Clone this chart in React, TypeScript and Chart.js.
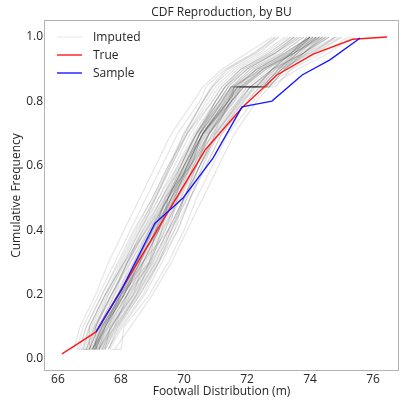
import React, { useEffect, useRef } from 'react';
import { Chart, registerables } from 'chart.js';

Chart.register(...registerables);

const TITLE = 'CDF Reproduction, by BU';
const X_LABEL = 'Footwall Distribution (m)';
const Y_LABEL = 'Cumulative Frequency';
const LEGEND_LABELS = ['Imputed', 'True', 'Sample'];

const X_TICKS = [66, 68, 70, 72, 74, 76];
const Y_TICKS = [0, 0.2, 0.4, 0.6, 0.8, 1.0];

const TRUE_X = [66.13, 67.21, 70.67, 71.84, 72.95, 74.1, 75.35, 76.44];
const TRUE_Y = [0.016, 0.084, 0.649, 0.78, 0.882, 0.947, 0.993, 1.0];

const SAMPLE_X = [67.21, 68.03, 69.08, 69.97, 70.92, 71.84, 72.79, 73.75, 74.63, 75.59];
const SAMPLE_Y = [0.084, 0.217, 0.422, 0.5, 0.624, 0.783, 0.801, 0.882, 0.929, 0.997];

const IMPUTED_Y = [0.03, 0.03, 0.1, 0.2, 0.3, 0.4, 0.5, 0.6, 0.7, 0.8, 0.845, 0.845, 0.9, 0.95, 1.0];
const IMPUTED_RUNS = [
  [66.7, 66.7, 66.9, 67.4, 67.9, 68.4, 69.0, 69.5, 70.0, 70.6, 70.9, 70.9, 71.5, 72.4, 73.0],
  [67.1, 67.1, 67.4, 68.0, 68.7, 69.2, 69.7, 70.2, 70.7, 71.5, 71.8, 72.6, 73.1, 73.8, 74.4],
  [67.6, 67.6, 67.9, 68.6, 69.2, 69.8, 70.2, 70.7, 71.2, 72.0, 72.4, 72.4, 73.1, 74.0, 74.8],
  [67.0, 67.0, 67.3, 67.8, 68.2, 68.8, 69.3, 69.9, 70.4, 71.0, 71.3, 71.3, 71.9, 72.9, 73.6],
  [67.3, 67.3, 67.7, 68.3, 68.9, 69.4, 69.8, 70.2, 70.6, 71.2, 71.5, 72.4, 72.9, 73.5, 74.0],
  [66.8, 67.2, 67.2, 67.6, 68.1, 68.6, 69.2, 69.8, 70.4, 71.1, 71.5, 71.5, 72.5, 73.5, 74.4],
  [67.2, 67.2, 67.5, 68.1, 68.6, 69.1, 69.7, 70.1, 70.6, 71.4, 71.6, 72.7, 73.2, 73.8, 74.3],
  [67.1, 67.1, 67.35, 67.9, 68.4, 68.9, 69.5, 70.0, 70.5, 71.2, 71.5, 71.5, 72.1, 73.0, 73.7],
  [67.4, 67.4, 67.8, 68.5, 69.1, 69.6, 70.1, 70.5, 71.0, 71.8, 72.2, 72.2, 72.9, 73.8, 74.6],
  [66.6, 66.6, 66.8, 67.3, 67.8, 68.3, 68.8, 69.3, 69.8, 70.5, 70.7, 70.7, 71.3, 72.2, 72.9],
  [67.7, 68.0, 68.1, 68.9, 69.5, 70.0, 70.4, 70.9, 71.4, 72.2, 72.6, 72.6, 73.4, 74.4, 75.2],
  [67.3, 67.3, 67.6, 68.2, 68.7, 69.2, 69.6, 70.0, 70.5, 71.1, 71.4, 72.3, 72.8, 73.4, 73.9],
  [67.0, 67.0, 67.3, 67.9, 68.5, 69.0, 69.6, 70.2, 70.8, 71.6, 72.0, 72.0, 72.7, 73.7, 74.5],
  [67.2, 67.2, 67.5, 68.0, 68.6, 69.0, 69.6, 70.1, 70.6, 71.3, 71.7, 72.6, 73.1, 73.7, 74.2],
  [66.8, 66.8, 67.0, 67.5, 68.0, 68.5, 69.1, 69.6, 70.1, 70.8, 71.1, 71.1, 71.7, 72.6, 73.3],
  [67.4, 67.4, 67.7, 68.4, 69.0, 69.5, 70.0, 70.5, 71.1, 71.9, 72.3, 72.3, 73.1, 74.1, 75.0],
  [67.1, 67.1, 67.4, 68.0, 68.5, 69.0, 69.5, 70.1, 70.6, 71.3, 71.6, 72.5, 73.0, 73.5, 74.0],
  [67.3, 67.3, 67.5, 68.1, 68.7, 69.2, 69.7, 70.1, 70.5, 71.0, 71.3, 71.3, 71.8, 72.7, 73.4],
  [66.9, 66.9, 67.2, 67.7, 68.2, 68.8, 69.4, 70.0, 70.6, 71.4, 71.8, 71.8, 72.4, 73.4, 74.2],
  [67.5, 67.5, 67.9, 68.5, 69.1, 69.6, 70.1, 70.6, 71.1, 71.9, 72.2, 72.9, 73.4, 74.1, 74.8],
  [67.15, 67.15, 67.45, 68.05, 68.6, 69.1, 69.6, 70.1, 70.6, 71.35, 71.65, 71.65, 72.3, 73.25, 74.0],
  [66.6, 67.0, 67.0, 67.5, 68.1, 68.6, 69.1, 69.6, 70.1, 70.7, 71.0, 71.0, 71.6, 72.5, 73.2],
  [67.3, 67.3, 67.7, 68.3, 68.9, 69.4, 69.9, 70.4, 70.9, 71.7, 72.0, 72.7, 73.2, 73.9, 74.6],
  [67.0, 67.0, 67.3, 67.8, 68.4, 68.9, 69.4, 69.9, 70.4, 71.1, 71.4, 71.4, 72.0, 72.9, 73.6],
  [67.8, 67.8, 68.3, 69.0, 69.6, 70.1, 70.6, 71.1, 71.6, 72.3, 72.7, 72.7, 73.6, 74.6, 75.3],
  [66.5, 66.5, 66.7, 67.2, 67.6, 68.1, 68.6, 69.1, 69.6, 70.3, 70.6, 70.6, 71.2, 72.0, 72.8],
  [67.2, 67.2, 67.55, 68.1, 68.7, 69.2, 69.7, 70.2, 70.7, 71.4, 71.75, 72.5, 73.0, 73.6, 74.3],
  [67.1, 67.1, 67.4, 67.95, 68.5, 68.95, 69.5, 70.0, 70.5, 71.25, 71.55, 71.55, 72.2, 73.1, 73.8],
  [67.6, 67.6, 67.95, 68.6, 69.2, 69.6, 70.0, 70.4, 70.8, 71.4, 71.7, 72.3, 72.8, 73.4, 74.0],
  [66.9, 66.9, 67.15, 67.7, 68.3, 68.9, 69.5, 70.2, 70.8, 71.7, 72.1, 72.1, 72.9, 73.9, 74.8],
  [67.25, 67.25, 67.6, 68.2, 68.8, 69.3, 69.8, 70.3, 70.8, 71.5, 71.9, 72.7, 73.2, 73.8, 74.4],
  [66.95, 66.95, 67.2, 67.7, 68.25, 68.75, 69.3, 69.8, 70.3, 71.0, 71.3, 71.3, 71.9, 72.8, 73.5],
  [67.45, 67.45, 67.8, 68.45, 69.05, 69.55, 70.05, 70.5, 71.0, 71.8, 72.1, 72.1, 72.8, 73.8, 74.6],
  [67.2, 67.2, 67.45, 68.0, 68.55, 69.05, 69.65, 70.15, 70.65, 71.4, 71.7, 72.6, 73.1, 73.6, 74.2],
  [67.05, 67.05, 67.6, 68.0, 68.9, 69.1, 69.4, 70.2, 70.95, 71.45, 71.75, 71.75, 72.5, 73.4, 74.1],
  [67.45, 67.45, 67.85, 68.5, 68.9, 69.3, 69.5, 69.9, 70.4, 71.0, 71.3, 71.3, 72.0, 72.9, 73.5],
  [66.75, 66.75, 67.0, 67.5, 68.1, 68.8, 69.5, 70.0, 70.6, 71.5, 71.9, 71.9, 72.5, 73.5, 74.3],
  [67.3, 67.3, 67.65, 68.4, 68.7, 69.5, 69.8, 70.4, 70.75, 71.6, 71.8, 71.8, 72.6, 73.5, 74.3],
  [67.0, 67.0, 67.25, 67.9, 68.3, 68.85, 69.35, 69.9, 70.35, 71.1, 71.4, 71.4, 72.0, 72.9, 73.7],
  [67.2, 67.2, 67.4, 68.2, 68.5, 69.2, 69.6, 70.25, 70.55, 71.5, 71.6, 71.6, 72.4, 73.3, 74.1],
  [67.6, 67.6, 68.0, 68.7, 69.2, 69.7, 70.0, 70.4, 70.8, 71.5, 71.8, 71.8, 72.5, 73.4, 74.2],
  [66.9, 66.9, 67.15, 67.7, 68.2, 68.7, 69.2, 69.7, 70.2, 70.9, 71.2, 71.2, 71.8, 72.7, 73.4],
  [67.15, 67.15, 67.5, 68.1, 68.6, 69.1, 69.55, 70.05, 70.6, 71.3, 71.6, 71.6, 72.3, 73.2, 74.0],
  [67.35, 67.35, 67.7, 68.35, 68.95, 69.5, 70.0, 70.5, 71.05, 71.85, 72.25, 72.25, 73.0, 74.0, 74.9],
  [67.1, 67.1, 67.5, 67.95, 68.45, 69.05, 69.45, 70.05, 70.5, 71.2, 71.5, 71.5, 72.1, 73.1, 73.8],
  [66.65, 66.65, 66.9, 67.4, 67.95, 68.45, 69.0, 69.5, 70.1, 70.9, 71.2, 71.2, 71.8, 72.8, 73.5],
  [67.25, 67.25, 67.55, 68.2, 68.75, 69.25, 69.75, 70.25, 70.75, 71.5, 71.85, 71.85, 72.5, 73.5, 74.2],
  [67.5, 67.5, 67.85, 68.55, 69.15, 69.7, 70.2, 70.7, 71.2, 72.0, 72.4, 72.4, 73.2, 74.2, 75.0],
  [67.0, 67.0, 67.2, 67.75, 68.2, 68.65, 69.1, 69.55, 70.0, 70.6, 70.9, 70.9, 71.4, 72.3, 73.0],
  [67.15, 67.15, 67.35, 68.1, 68.5, 69.2, 69.5, 70.15, 70.5, 71.4, 71.6, 71.6, 72.3, 73.3, 74.0],
  [67.4, 67.4, 67.75, 68.4, 69.0, 69.5, 70.0, 70.5, 70.95, 71.75, 72.1, 72.1, 72.8, 73.8, 74.5],
  [67.05, 67.05, 67.35, 67.9, 68.45, 68.95, 69.45, 69.95, 70.45, 71.15, 71.5, 72.3, 72.8, 73.4, 73.9],
  [67.1, 67.5, 67.65, 68.25, 68.85, 69.35, 69.85, 70.3, 70.8, 71.55, 71.9, 71.9, 72.6, 73.5, 74.3],
  [66.85, 66.85, 67.1, 67.6, 68.15, 68.7, 69.3, 69.85, 70.4, 71.2, 71.55, 71.55, 72.2, 73.2, 74.0],
  [67.2, 67.2, 67.5, 68.1, 68.65, 69.15, 69.65, 70.15, 70.65, 71.4, 71.7, 71.7, 72.4, 73.35, 74.1],
  [67.65, 67.65, 68.05, 68.75, 69.3, 69.8, 70.2, 70.6, 71.0, 71.75, 72.1, 72.1, 72.8, 73.8, 74.5],
  [66.8, 66.8, 67.05, 67.55, 68.05, 68.55, 69.05, 69.55, 70.05, 70.6, 70.85, 70.85, 71.35, 72.25, 72.9],
  [67.3, 67.3, 67.8, 68.2, 68.95, 69.3, 69.9, 70.3, 70.9, 71.5, 71.9, 71.9, 72.6, 73.6, 74.4],
  [67.1, 67.1, 67.4, 68.0, 68.5, 69.0, 69.5, 70.0, 70.5, 71.25, 71.6, 72.5, 73.0, 73.6, 74.1],
  [67.15, 67.15, 67.45, 68.05, 68.6, 69.1, 69.6, 70.1, 70.6, 71.35, 71.7, 71.7, 72.3, 73.2, 74.0],
];

const IMPUTED_COLOR = 'rgba(0,0,0,0.1)';
const TRUE_COLOR = '#ff1a1a';
const SAMPLE_COLOR = '#1a1aff';
const TEXT_COLOR = '#262626';
const FONT = '"Open Sans", "DejaVu Sans", sans-serif';

const decorPlugin = {
  id: 'decor',
  afterDraw(chart: any) {
    const { ctx, chartArea: a } = chart;
    ctx.save();
    ctx.strokeStyle = '#b3b3b3';
    ctx.lineWidth = 1;
    ctx.strokeRect(Math.round(a.left) - 0.5, Math.round(a.top) - 0.5, Math.round(a.right - a.left) + 1, Math.round(a.bottom - a.top) + 1);

    ctx.fillStyle = TEXT_COLOR;
    ctx.font = `12px ${FONT}`;
    ctx.textAlign = 'center';
    ctx.textBaseline = 'middle';
    ctx.fillText(TITLE, (a.left + a.right) / 2, 13);

    const colors = [IMPUTED_COLOR, TRUE_COLOR, SAMPLE_COLOR];
    const rowsY = [37, 55, 73];
    ctx.textAlign = 'left';
    LEGEND_LABELS.forEach((label, i) => {
      ctx.strokeStyle = i === 0 ? 'rgba(0,0,0,0.08)' : colors[i];
      ctx.lineWidth = 1.4;
      ctx.beginPath();
      ctx.moveTo(57, rowsY[i]);
      ctx.lineTo(82, rowsY[i]);
      ctx.stroke();
      ctx.fillStyle = TEXT_COLOR;
      ctx.fillText(label, 93, rowsY[i] + 0.5);
    });
    ctx.restore();
  },
};

export default function App() {
  const ref = useRef<HTMLCanvasElement | null>(null);

  useEffect(() => {
    document.body.style.margin = '0';
    const canvas = ref.current;
    if (!canvas) return;

    const imputedSets = IMPUTED_RUNS.map((run, k) => ({
      label: k === 0 ? LEGEND_LABELS[0] : '',
      data: run.map((x, i) => ({ x, y: IMPUTED_Y[i] })),
      borderColor: IMPUTED_COLOR,
      borderWidth: 1.2,
      pointRadius: 0,
      showLine: true,
      order: 2,
    }));

    const chart = new Chart(canvas, {
      type: 'scatter',
      data: {
        datasets: [
          {
            label: LEGEND_LABELS[2],
            data: SAMPLE_X.map((x, i) => ({ x, y: SAMPLE_Y[i] })),
            borderColor: SAMPLE_COLOR,
            borderWidth: 1.4,
            pointRadius: 0,
            showLine: true,
            order: 0,
          },
          {
            label: LEGEND_LABELS[1],
            data: TRUE_X.map((x, i) => ({ x, y: TRUE_Y[i] })),
            borderColor: TRUE_COLOR,
            borderWidth: 1.4,
            pointRadius: 0,
            showLine: true,
            order: 1,
          },
          ...imputedSets,
        ],
      },
      options: {
        responsive: false,
        animation: false,
        events: [],
        layout: { padding: { top: 21, right: 1, left: 0, bottom: 0 } },
        plugins: {
          legend: { display: false },
          title: { display: false },
          tooltip: { enabled: false },
        },
        scales: {
          x: {
            type: 'linear',
            min: 65.59,
            max: 76.79,
            grid: { display: false, drawTicks: false },
            border: { display: false },
            afterBuildTicks: (s: any) => {
              s.ticks = X_TICKS.map((v) => ({ value: v }));
            },
            afterFit: (s: any) => {
              s.height = 34;
            },
            ticks: {
              padding: 2,
              color: TEXT_COLOR,
              font: { family: FONT, size: 12 },
              maxRotation: 0,
              callback: (v: any) => String(Math.round(Number(v))),
            },
            title: {
              display: true,
              text: X_LABEL,
              color: TEXT_COLOR,
              font: { family: FONT, size: 12 },
              padding: { top: 0, bottom: 5 },
            },
          },
          y: {
            type: 'linear',
            min: -0.0342,
            max: 1.0497,
            grid: { display: false, drawTicks: false },
            border: { display: false },
            afterBuildTicks: (s: any) => {
              s.ticks = Y_TICKS.map((v) => ({ value: v }));
            },
            afterFit: (s: any) => {
              s.width = 45;
            },
            ticks: {
              padding: 2,
              color: TEXT_COLOR,
              font: { family: FONT, size: 12 },
              callback: (v: any) => Number(v).toFixed(1),
            },
            title: {
              display: true,
              text: Y_LABEL,
              color: TEXT_COLOR,
              font: { family: FONT, size: 12 },
              padding: { top: 9, bottom: 0 },
            },
          },
        },
      },
      plugins: [decorPlugin],
    });

    return () => chart.destroy();
  }, []);

  return (
    <div style={{ width: 399, height: 404, background: '#fff' }}>
      <canvas ref={ref} width={399} height={404} style={{ display: 'block' }} />
    </div>
  );
}
